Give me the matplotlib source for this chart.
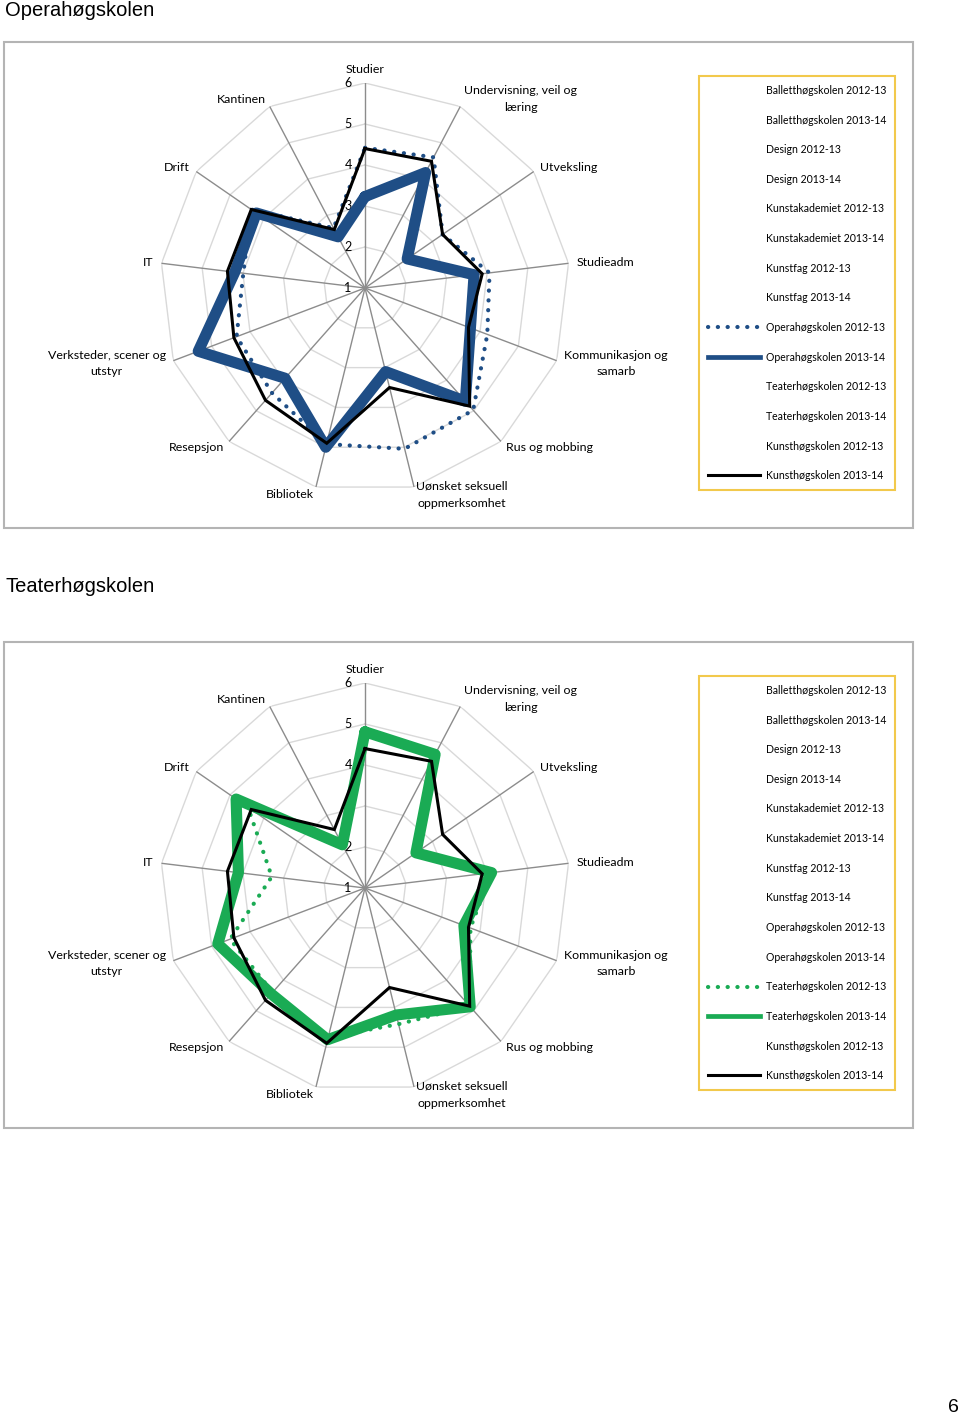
import numpy as np
import matplotlib
matplotlib.use('Agg')
import matplotlib.pyplot as plt
from matplotlib.lines import Line2D
from matplotlib.patches import Rectangle

# categories, clockwise from the top
categories = ['Studier', 'Undervisning, veil og\nlæring', 'Utveksling', 'Studieadm',
              'Kommunikasjon og\nsamarb', 'Rus og mobbing', 'Uønsket seksuell\noppmerksomhet',
              'Bibliotek', 'Resepsjon', 'Verksteder, scener og\nutstyr', 'IT', 'Drift', 'Kantinen']
ring_labels = [1, 2, 3, 4, 5, 6]

legend_names = ['Balletthøgskolen 2012-13', 'Balletthøgskolen 2013-14', 'Design 2012-13',
                'Design 2013-14', 'Kunstakademiet 2012-13', 'Kunstakademiet 2013-14',
                'Kunstfag 2012-13', 'Kunstfag 2013-14', 'Operahøgskolen 2012-13',
                'Operahøgskolen 2013-14', 'Teaterhøgskolen 2012-13', 'Teaterhøgskolen 2013-14',
                'Kunsthøgskolen 2012-13', 'Kunsthøgskolen 2013-14']

kunst_1314 = [4.40, 4.49, 3.30, 3.88, 3.70, 4.85, 3.50, 4.90, 4.66, 4.42, 4.38, 4.37, 2.61]
opera_1213 = [4.42, 4.60, 3.30, 4.06, 4.19, 4.98, 5.04, 4.92, 4.42, 4.35, 3.99, 4.37, 2.65]
opera_1314 = [3.23, 4.18, 2.25, 3.68, 3.75, 4.69, 3.10, 5.00, 3.94, 5.35, 4.20, 4.22, 2.41]
teater_1213 = [4.78, 4.65, 2.50, 4.10, 3.75, 4.85, 4.42, 4.75, 4.40, 4.52, 3.29, 4.47, 2.20]
teater_1314 = [4.81, 4.68, 2.51, 4.11, 3.58, 4.87, 4.19, 4.81, 4.45, 4.84, 4.11, 4.82, 2.19]

BLUE = '#1f4e86'
GREEN = '#1aab54'
W, H = 960, 1416
DOTS = (0, (0.05, 2.3))

fig = plt.figure(figsize=(W / 100, H / 100), dpi=100)
fig.patch.set_facecolor('white')

n = len(categories)
theta = np.arange(n) * 2 * np.pi / n
theta_c = np.append(theta, theta[0])


def closed(v):
    return np.append(v, v[0])


def radar(top, title_y, title, dotted, thick, color, dotted_idx, thick_idx):
    fig.text(5 / W, 1 - title_y / H, title, fontsize=14.5, family='Liberation Sans',
             va='center', ha='left')
    # frame around chart
    fig.patches.append(Rectangle((4 / W, 1 - (top + 486) / H), 909 / W, 486 / H,
                                 transform=fig.transFigure, fill=False,
                                 edgecolor='#b4b4b4', lw=1.5))
    cy = top + 246
    ax = fig.add_axes([160 / W, 1 - (cy + 205) / H, 410 / W, 410 / H], projection='polar')
    ax.set_theta_zero_location('N')
    ax.set_theta_direction(-1)
    ax.set_ylim(1, 6)
    ax.grid(False)
    ax.set_xticks([])
    ax.set_yticks([])
    ax.spines['polar'].set_visible(False)
    ax.patch.set_alpha(0)

    for r in ring_labels[1:]:
        ax.plot(theta_c, [r] * (n + 1), color='#d9d9d9', lw=1.0, zorder=1)
    for t in theta:
        ax.plot([t, t], [1, 6], color='#8c8c8c', lw=1.0, zorder=2)
    for r in ring_labels:
        ax.annotate(str(r), xy=(0, r), xytext=(-17, 0), textcoords='offset pixels',
                    ha='center', va='center', fontsize=9, family='Lato',
                    annotation_clip=False, zorder=3)
    for t, lab in zip(theta, categories):
        s, c = np.sin(t), np.cos(t)
        ha = 'left' if s > 0.1 else ('right' if s < -0.1 else 'center')
        va = 'bottom' if abs(s) < 0.1 else 'center'
        ax.annotate(lab, xy=(t, 6), xytext=(8 * s, 8 * c), textcoords='offset pixels',
                    ha=ha, va=va, multialignment='center', fontsize=8.9, family='Lato',
                    linespacing=1.65, annotation_clip=False)

    ax.plot(theta_c, closed(dotted), color=color, lw=3.0, linestyle=DOTS,
            dash_capstyle='round', zorder=4)
    ax.plot(theta_c, closed(thick), color=color, lw=8.0, solid_joinstyle='round',
            solid_capstyle='round', zorder=5)
    ax.plot(theta_c, closed(kunst_1314), color='black', lw=2.2, solid_joinstyle='miter', zorder=6)

    handles = []
    for i, name in enumerate(legend_names):
        if i == dotted_idx:
            h = Line2D([], [], color=color, lw=3.0, linestyle=DOTS, dash_capstyle='round')
        elif i == thick_idx:
            h = Line2D([], [], color=color, lw=3.4)
        elif i == 13:
            h = Line2D([], [], color='black', lw=2.2)
        else:
            h = Line2D([], [], color='none')
        handles.append(h)
    leg = ax.legend(handles, legend_names, loc='upper left', mode='expand',
                    bbox_to_anchor=(699 / W, 1 - (top + 447) / H, 196 / W, 413 / H),
                    bbox_transform=fig.transFigure, borderaxespad=0, fancybox=False,
                    prop={'family': 'Lato', 'size': 7.6}, handlelength=4.9,
                    handletextpad=0.57, labelspacing=1.765, borderpad=0.85, framealpha=1)
    leg.get_frame().set_edgecolor('#f2c94c')
    leg.get_frame().set_linewidth(1.5)


radar(42, 10, 'Operahøgskolen', opera_1213, opera_1314, BLUE, 8, 9)
radar(642, 587, 'Teaterhøgskolen', teater_1213, teater_1314, GREEN, 10, 11)

fig.text(953 / W, 1 - 1408 / H, '6', fontsize=14, family='Liberation Sans',
         ha='center', va='center')

fig.savefig('out.png', dpi=100)
